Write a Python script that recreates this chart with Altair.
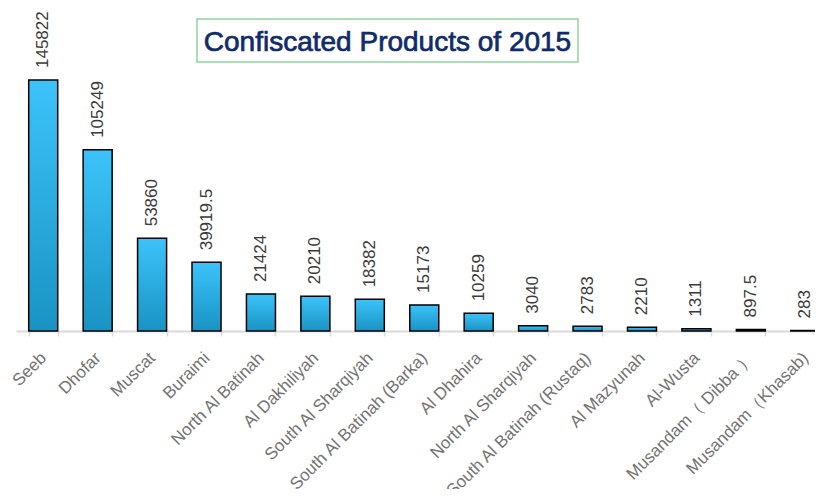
import altair as alt
import pandas as pd

regions = ["Seeb", "Dhofar", "Muscat", "Buraimi", "North Al Batinah", "Al Dakhiliyah",
           "South Al Sharqiyah", "South Al Batinah (Barka)", "Al Dhahira", "North Al Sharqiyah",
           "South Al Batinah (Rustaq)", "Al Mazyunah", "Al-Wusta", "Musandam（ Dibba ）",
           "Musandam（Khasab)"]
values = [145822, 105249, 53860, 39919.5, 21424, 20210, 18382, 15173, 10259, 3040,
          2783, 2210, 1311, 897.5, 283]
title_text = "Confiscated Products of 2015"

df = pd.DataFrame({"region": regions, "value": values,
                   "label": [f"{v:g}" for v in values]})
tdf = pd.DataFrame({"t": [title_text]})

FONT = "Liberation Sans"

x = alt.X("region:N", sort=None, title=None,
          scale=alt.Scale(paddingInner=0.467, paddingOuter=0.2335),
          axis=alt.Axis(labelAngle=-45, labelAlign="right", labelBaseline="middle",
                        labelFontSize=17, labelColor="#737373", labelFont=FONT,
                        labelPadding=19, tickBand="extent", tickSize=5, tickWidth=1.5,
                        tickColor="#d9d9d9", domainColor="#d9d9d9", domainWidth=2,
                        labelOverlap=False, labelLimit=400))
y = alt.Y("value:Q", axis=None, scale=alt.Scale(domain=[0, 146984], nice=False, zero=True))

grad = alt.LinearGradient(gradient="linear",
                          stops=[alt.GradientStop(color="#3cc3fa", offset=0),
                                 alt.GradientStop(color="#1993c3", offset=1)],
                          x1=0, x2=0, y1=0, y2=1)

bars = alt.Chart(df).mark_bar(fill=grad, stroke="#000000", strokeWidth=1.5).encode(x=x, y=y)

labels = alt.Chart(df).mark_text(angle=270, align="left", baseline="middle", dx=12,
                                 fontSize=17, font=FONT, color="#3a3a3a").encode(
    x=x, y=y, text="label:N")

box = alt.Chart(tdf).mark_rect(fillOpacity=0, stroke="#8fd3a0", strokeWidth=1.5).encode(
    x=alt.value(181), x2=alt.value(562), y=alt.value(-59), y2=alt.value(-16))

title = alt.Chart(tdf).mark_text(fontSize=28, font=FONT, color="#0f2b6b", align="center",
                                 baseline="alphabetic", stroke="#0f2b6b",
                                 strokeWidth=0.7).encode(
    x=alt.value(371.5), y=alt.value(-27), text="t:N")

chart = alt.layer(bars, labels, box, title).properties(
    width=816.5, height=253,
    autosize=alt.AutoSizeParams(type="none"),
    padding={"left": 8, "top": 70, "right": -17.5, "bottom": 158},
    background="white",
).configure_view(stroke=None)

chart.save("out.html", embed_options={"renderer": "svg", "actions": False})
